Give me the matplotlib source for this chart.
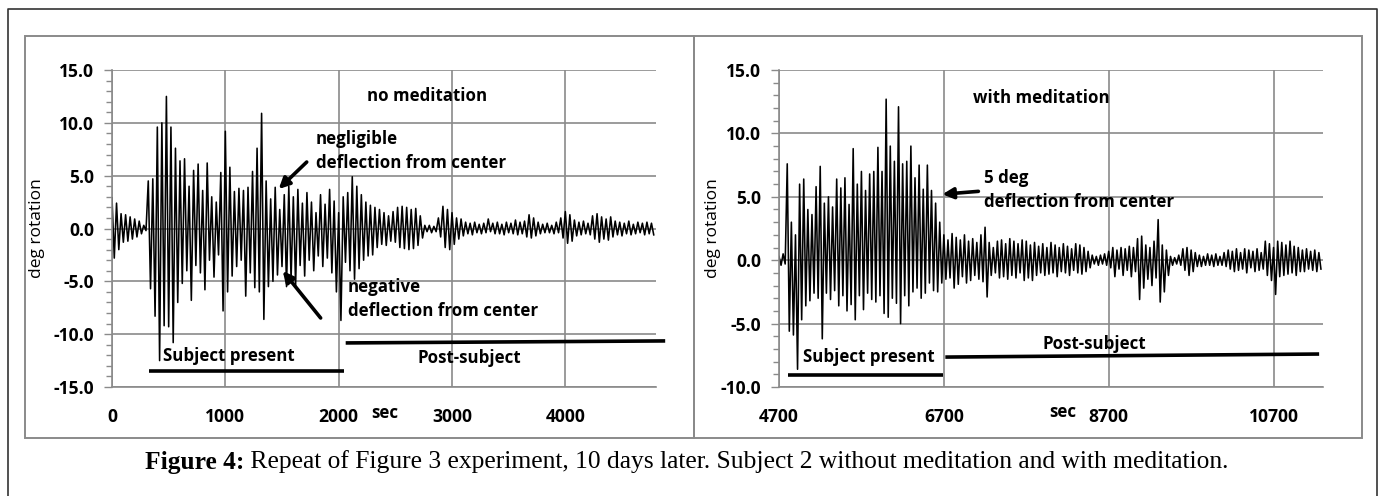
import matplotlib
matplotlib.use("Agg")
import matplotlib.pyplot as plt
import numpy as np
from matplotlib.ticker import MultipleLocator, FormatStrFormatter
from matplotlib.patches import Rectangle
from matplotlib.lines import Line2D

# ---------------- data ----------------
# Left panel: no meditation. Sample times (s) and oscillation peaks / troughs (deg)
left_time = list(range(0, 4800, 40))
left_hi = [2.9, 2.4, 1.4, 1.3, 1.1, 0.9, 0.7, 0.3, 4.5, 4.7,
           9.6, 10.0, 12.5, 9.6, 7.6, 6.4, 6.6, 4.0, 5.5, 6.1,
           3.6, 6.2, 3.0, 2.5, 5.3, 9.2, 5.8, 3.5, 3.8, 3.6,
           3.9, 5.4, 7.6, 10.9, 4.5, 2.8, 3.9, 1.8, 3.2, 4.0,
           3.0, 3.7, 2.4, 3.4, 2.5, 1.5, 3.2, 2.3, 3.7, 2.6,
           1.5, 3.0, 3.4, 4.9, 4.0, 3.2, 2.5, 2.2, 2.0, 1.8,
           1.5, 1.2, 1.6, 2.0, 2.1, 2.0, 1.8, 1.9, 1.2, 0.3,
           0.3, 0.2, 1.0, 2.1, 1.8, 1.5, 1.0, 0.9, 0.6, 0.5,
           0.6, 0.4, 0.5, 0.9, 0.5, 0.6, 0.4, 0.6, 0.5, 0.8,
           0.6, 0.7, 1.3, 1.0, 0.6, 0.4, 0.5, 0.3, 0.6, 1.0,
           1.6, 1.3, 0.8, 0.6, 0.7, 0.5, 1.2, 1.4, 1.1, 0.9,
           1.1, 0.7, 0.6, 0.5, 0.7, 0.4, 0.6, 0.5, 0.6, 0.5]
left_lo = [-2.8, -2.0, -1.3, -1.2, -1.0, -0.8, -0.5, -0.2, -5.7, -8.3,
           -12.5, -9.2, -9.3, -10.8, -7.0, -5.2, -4.0, -6.8, -3.5, -4.2,
           -5.8, -3.0, -4.6, -2.5, -7.8, -6.0, -4.5, -3.6, -3.0, -6.4,
           -4.2, -5.6, -6.0, -8.6, -5.5, -5.0, -4.4, -3.6, -5.5, -4.8,
           -5.4, -3.5, -4.5, -3.0, -4.0, -2.6, -3.6, -2.8, -4.2, -6.0,
           -8.7, -3.2, -4.0, -4.8, -3.8, -3.0, -2.6, -2.5, -1.8, -1.5,
           -1.6, -1.2, -1.3, -1.8, -1.9, -2.0, -1.9, -1.6, -0.9, -0.3,
           -0.4, -0.3, -0.8, -1.8, -2.0, -1.5, -1.0, -0.7, -0.5, -0.6,
           -0.4, -0.5, -0.4, -0.3, -0.5, -0.5, -0.6, -0.4, -0.5, -0.6,
           -0.5, -0.8, -0.9, -0.7, -0.5, -0.4, -0.4, -0.5, -0.4, -0.9,
           -1.4, -1.2, -0.7, -0.6, -0.5, -0.6, -1.0, -1.3, -1.0, -1.1,
           -0.8, -0.6, -0.7, -0.5, -0.6, -0.5, -0.4, -0.6, -0.5, -0.6]

# Right panel: with meditation
right_time = list(range(4700, 11300, 50))
right_hi = [0.3, 0.5, 7.6, 3.0, 2.0, 6.0, 6.4, 4.0, 3.6, 5.8,
            7.4, 4.5, 5.0, 4.2, 6.4, 5.7, 6.5, 4.4, 8.8, 6.0,
            7.0, 5.5, 6.8, 7.0, 8.9, 7.0, 12.7, 9.0, 7.8, 12.1,
            7.6, 7.8, 9.0, 6.5, 7.5, 5.6, 7.5, 5.5, 4.5, 3.0,
            2.0, 1.6, 2.1, 1.8, 1.6, 2.0, 1.5, 1.7, 1.4, 2.0,
            2.6, 1.4, 1.0, 1.5, 1.6, 1.3, 1.7, 1.5, 1.3, 1.6,
            1.5, 1.2, 1.4, 1.1, 1.3, 1.0, 1.4, 1.2, 1.0, 1.3,
            1.1, 0.9, 1.3, 1.2, 1.0, 0.7, 0.4, 0.3, 0.4, 0.5,
            0.7, 1.0, 0.8, 1.0, 0.9, 1.1, 1.0, 1.7, 1.9, 1.2,
            1.0, 1.5, 3.2, 1.2, 0.8, 0.3, 0.2, 0.4, 0.9, 1.0,
            0.8, 0.6, 0.4, 0.3, 0.5, 0.4, 0.5, 0.3, 0.6, 0.8,
            0.7, 0.9, 0.6, 0.9, 0.8, 0.7, 0.9, 0.6, 1.5, 1.3,
            1.0, 1.5, 1.4, 1.2, 1.5, 1.1, 1.0, 0.8, 0.9, 0.7,
            0.8, 0.6]
right_lo = [-0.4, -0.3, -5.6, -5.9, -8.6, -4.7, -3.6, -3.2, -2.6, -3.0,
            -6.2, -2.6, -3.1, -2.4, -3.6, -2.8, -4.0, -3.5, -4.7, -2.8,
            -3.9, -2.6, -3.1, -3.3, -2.8, -4.2, -4.5, -3.0, -3.4, -5.0,
            -2.8, -3.6, -2.5, -2.2, -3.0, -2.6, -1.8, -2.4, -2.5, -1.8,
            -1.5, -1.4, -2.2, -1.9, -1.3, -1.8, -1.6, -1.2, -1.5, -1.7,
            -2.9, -1.2, -1.0, -1.4, -1.3, -1.5, -1.2, -1.4, -1.0, -1.6,
            -1.4, -1.6, -1.2, -1.0, -1.2, -1.1, -1.0, -1.3, -0.9, -1.0,
            -1.2, -0.8, -1.0, -1.1, -0.9, -0.6, -0.3, -0.4, -0.3, -0.4,
            -0.6, -1.3, -0.7, -1.2, -0.8, -1.3, -0.9, -3.1, -2.2, -1.5,
            -2.0, -1.4, -3.3, -2.5, -1.2, -0.4, -0.3, -0.4, -0.8, -1.2,
            -0.9, -0.5, -0.5, -0.4, -0.4, -0.5, -0.4, -0.4, -0.5, -0.7,
            -0.9, -0.8, -0.7, -1.0, -0.6, -0.9, -0.8, -0.7, -1.2, -1.6,
            -2.7, -1.3, -1.2, -1.1, -1.0, -1.2, -0.9, -0.9, -0.7, -0.8,
            -0.9, -0.7]

left_xticks = [0, 1000, 2000, 3000, 4000]
right_xticks = [4700, 6700, 8700, 10700]
caption_bold = "Figure 4:"
caption_rest = " Repeat of Figure 3 experiment, 10 days later. Subject 2 without meditation and with meditation."

# ---------------- figure ----------------
W, H = 1380, 496
fig = plt.figure(figsize=(W / 100, H / 100), dpi=100)
SANS = ["Open Sans", "DejaVu Sans"]
GRID = "#8a8a8a"
TICK_FS = 12.6
ANN_FS = 12.2


def fx(px):
    return px / W


def fy(py):
    return 1 - py / H


def trace(times, hi, lo):
    step = times[1] - times[0]
    t, v = [], []
    for ti, h, l in zip(times, hi, lo):
        t += [ti, ti + step / 2]
        v += [h, l]
    return t, v


def style(ax, xlim, ylim, xticks):
    ax.set_xlim(*xlim)
    ax.set_ylim(*ylim)
    ax.set_xticks(xticks)
    ax.set_yticks(np.arange(ylim[0], ylim[1] + 0.1, 5))
    ax.yaxis.set_minor_locator(MultipleLocator(1))
    ax.yaxis.set_major_formatter(FormatStrFormatter("%.1f"))
    ax.grid(True, which="major", color=GRID, lw=1.2)
    ax.set_axisbelow(True)
    for s in ("top", "right"):
        ax.spines[s].set_visible(False)
    for s in ("left", "bottom"):
        ax.spines[s].set_color(GRID)
        ax.spines[s].set_linewidth(1.2)
    ax.tick_params(axis="x", length=0, pad=15)
    ax.tick_params(axis="y", which="major", length=6, width=1, color=GRID, pad=7)
    ax.tick_params(axis="y", which="minor", length=4, width=1, color=GRID)
    for lab in ax.get_xticklabels() + ax.get_yticklabels():
        lab.set_fontfamily(SANS)
        lab.set_fontweight("bold")
        lab.set_fontsize(TICK_FS)


def btext(ax, x, y, s, **kw):
    ax.text(x, y, s, fontfamily=SANS, fontweight="bold", fontsize=ANN_FS,
            va="center", ha="left", clip_on=False, **kw)


arrow_kw = dict(arrowstyle="-|>", lw=2.6, color="black", mutation_scale=16,
                shrinkA=0, shrinkB=0)

# left panel
axL = fig.add_axes([fx(112), fy(387), fx(656) - fx(112), fy(70) - fy(387)])
t, v = trace(left_time, left_hi, left_lo)
axL.plot(t, v, color="black", lw=1.15)
style(axL, (0, 4800), (-15, 15), left_xticks)
btext(axL, 2247, 12.5, "no meditation")
btext(axL, 1797, 8.47, "negligible")
btext(axL, 1797, 6.2, "deflection from center")
axL.annotate("", xy=(1471, 3.74), xytext=(1718, 6.29), arrowprops=arrow_kw)
btext(axL, 2079, -5.53, "negative")
btext(axL, 2079, -7.8, "deflection from center")
axL.annotate("", xy=(1507, -4.02), xytext=(1841, -8.47), arrowprops=arrow_kw)
btext(axL, 449, -12.06, "Subject present")
btext(axL, 2696, -12.25, "Post-subject")
axL.plot([326, 2044], [-13.48, -13.48], color="black", lw=2.6, clip_on=False,
         solid_capstyle="butt")
axL.plot([2062, 4881], [-10.83, -10.64], color="black", lw=2.6, clip_on=False,
         solid_capstyle="butt")
axL.text(2405, -17.45, "sec", fontfamily=SANS, fontweight="bold", fontsize=ANN_FS,
         ha="center", va="center", clip_on=False)

# right panel
axR = fig.add_axes([fx(779), fy(387), fx(1323) - fx(779), fy(70) - fy(387)])
t, v = trace(right_time, right_hi, right_lo)
axR.plot(t, v, color="black", lw=1.15)
style(axR, (4700, 11300), (-10, 15), right_xticks)
btext(axR, 7059, 12.83, "with meditation")
btext(axR, 7192, 6.46, "5 deg")
btext(axR, 7192, 4.57, "deflection from center")
axR.annotate("", xy=(6682, 5.2), xytext=(7119, 5.43), arrowprops=arrow_kw)
btext(axR, 4992, -7.64, "Subject present")
btext(axR, 7898, -6.61, "Post-subject")
axR.plot([4809, 6694], [-9.06, -9.06], color="black", lw=2.6, clip_on=False,
         solid_capstyle="butt")
axR.plot([6718, 11253], [-7.64, -7.4], color="black", lw=2.6, clip_on=False,
         solid_capstyle="butt")
axR.text(8141, -11.97, "sec", fontfamily=SANS, fontweight="bold", fontsize=ANN_FS,
         ha="center", va="center", clip_on=False)

# y labels
for xpx in (37, 713):
    fig.text(fx(xpx), fy(228), "deg rotation", rotation=90, ha="center",
             va="center", fontfamily=SANS, fontsize=12.5)

# panel boxes and outer frame
for x0, x1 in ((25, 694), (694, 1362)):
    fig.add_artist(Rectangle((fx(x0), fy(438)), fx(x1) - fx(x0), fy(36) - fy(438),
                             transform=fig.transFigure, fill=False,
                             edgecolor=GRID, lw=1.4))
fig.add_artist(Line2D([fx(8), fx(8), fx(1377), fx(1377)], [0, fy(9), fy(9), 0],
                      transform=fig.transFigure, color="#333333", lw=1.2))

# caption
SERIF = ["Liberation Serif", "DejaVu Serif"]
fig.canvas.draw()
r = fig.canvas.get_renderer()
tb = fig.text(fx(145), fy(462), caption_bold, fontfamily=SERIF, fontweight="bold",
              fontsize=18.4, va="center", ha="left")
bb = tb.get_window_extent(renderer=r)
fig.text(bb.x1 / W, fy(462), caption_rest, fontfamily=SERIF, fontsize=18.4,
         va="center", ha="left")

fig.savefig("out.png", dpi=100)
